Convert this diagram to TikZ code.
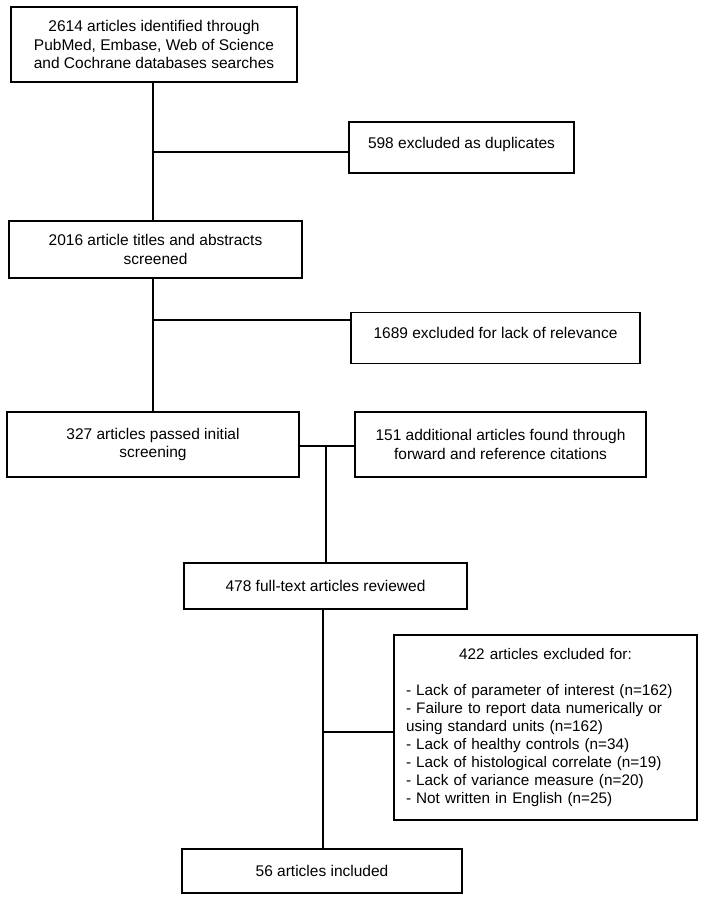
\documentclass[tikz,border=0pt]{standalone}
\usepackage{fontspec}
\setmainfont{Liberation Sans}
\usetikzlibrary{positioning}

\begin{document}
\begin{tikzpicture}[x=1pt, y=-1pt, line width=1.1pt,
    box/.style={draw, rectangle, inner sep=0pt, align=center,
                font=\fontsize{15.5}{18.5}\selectfont},
    topbox/.style={box, text height=26pt, text depth=25pt}]

    \useasboundingbox (0,0) rectangle (704,900);

    \node [box, minimum width=286pt, minimum height=75pt] (found) at (154 , 44.5)
        {2614 articles identified through\\PubMed, Embase, Web of Science\\and Cochrane databases searches};
    \node [topbox, minimum width=225pt] (dups) at (461.5 , 147.5) {598 excluded as duplicates};
    \node [box, minimum width=293pt, minimum height=57pt] (titles) at (155.5 , 249.5)
        {2016 article titles and abstracts\\screened};
    \node [topbox, minimum width=289pt] (irrel) at (495.5 , 338) {1689 excluded for lack of relevance};
    \node [box, minimum width=292pt, minimum height=65pt] (passed) at (153 , 444.5)
        {327 articles passed initial\\screening};
    \node [box, minimum width=291pt, minimum height=65pt] (extra) at (500.5 , 444.5)
        {151 additional articles found through\\forward and reference citations};
    \node [box, minimum width=283pt, minimum height=46pt] (full) at (325.5 , 586) {478 full-text articles reviewed};
    \node [box, minimum width=303pt, minimum height=185pt, text width=279pt, align=left,
           font=\fontsize{15.3}{18}\selectfont] (excl) at (545.5 , 727.5)
        {\makebox[\linewidth]{422 articles excluded for:}\\[18pt]
         - Lack of parameter of interest (n=162)\\
         - Failure to report data numerically or\\
         using standard units (n=162)\\
         - Lack of healthy controls (n=34)\\
         - Lack of histological correlate (n=19)\\
         - Lack of variance measure (n=20)\\
         - Not written in English (n=25)};
    \node [box, minimum width=280pt, minimum height=44pt] (incl) at (322 , 871) {56 articles included};

    \coordinate (j1) at (153 , 152);
    \coordinate (j2) at (153 , 320);
    \coordinate (j3) at (326 , 446);
    \coordinate (j4) at (323 , 732);

    \draw (found.south -| j1) -- (titles.north -| j1);
    \draw (j1) -- (j1 -| dups.west);
    \draw (titles.south -| j2) -- (passed.north -| j2);
    \draw (j2) -- (j2 -| irrel.west);
    \draw (passed.east |- j3) -- (extra.west |- j3);
    \draw (j3) -- (full.north -| j3);
    \draw (full.south -| j4) -- (incl.north -| j4);
    \draw (j4) -- (j4 -| excl.west);
\end{tikzpicture}
\end{document}
